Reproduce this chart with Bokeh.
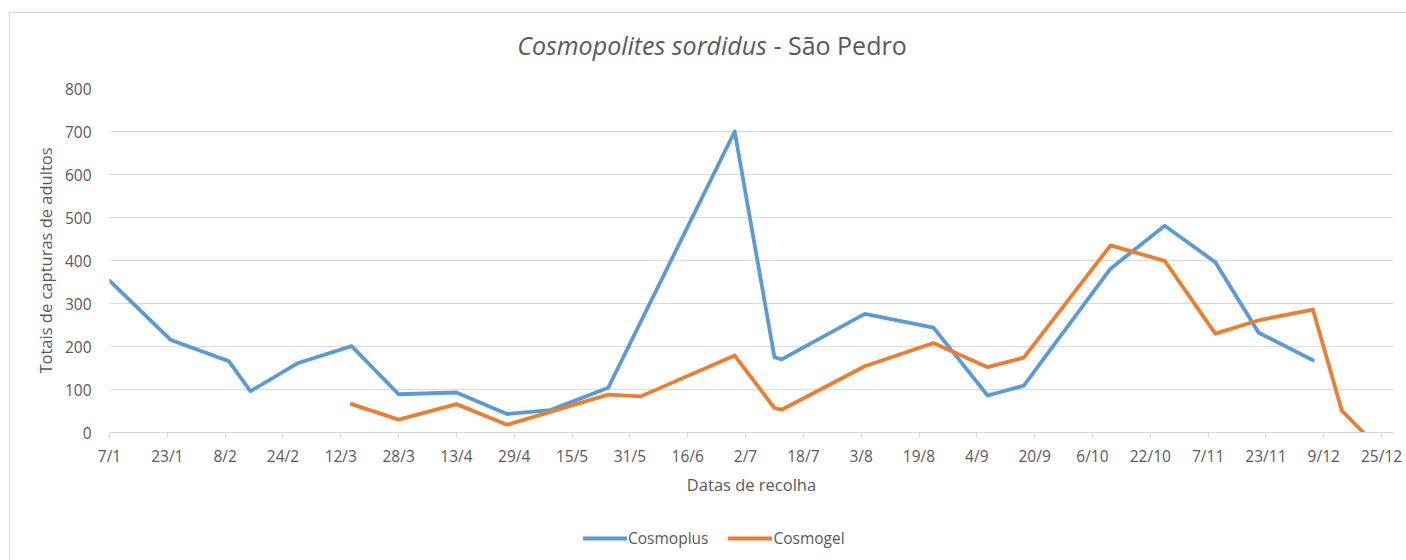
import pandas as pd
from bokeh.plotting import figure
from bokeh.layouts import column
from bokeh.models import (FixedTicker, Legend, LegendItem, Range1d,
                          ColumnDataSource, Div)
from bokeh.embed import file_html
from bokeh.resources import INLINE

# ---------------- data ----------------
YEAR = 2015
tick_labels = ["7/1", "23/1", "8/2", "24/2", "12/3", "28/3", "13/4", "29/4",
               "15/5", "31/5", "16/6", "2/7", "18/7", "3/8", "19/8", "4/9",
               "20/9", "6/10", "22/10", "7/11", "23/11", "9/12", "25/12"]
y_ticks = [0, 100, 200, 300, 400, 500, 600, 700, 800]

cosmoplus_dates = ["2015-01-07", "2015-01-24", "2015-02-09", "2015-02-15",
                   "2015-02-28", "2015-03-15", "2015-03-28", "2015-04-13",
                   "2015-04-27", "2015-05-09", "2015-05-25", "2015-06-29",
                   "2015-07-10", "2015-07-12", "2015-08-04", "2015-08-23",
                   "2015-09-07", "2015-09-17", "2015-10-11", "2015-10-26",
                   "2015-11-09", "2015-11-21", "2015-12-06"]
cosmoplus_values = [353, 215, 166, 96, 161, 201, 89, 93, 43, 52, 104, 700,
                    175, 170, 276, 244, 86, 109, 381, 481, 396, 232, 168]

cosmogel_dates = ["2015-03-15", "2015-03-28", "2015-04-13", "2015-04-27",
                  "2015-05-25", "2015-06-03", "2015-06-29", "2015-07-10",
                  "2015-07-12", "2015-08-04", "2015-08-23", "2015-09-07",
                  "2015-09-17", "2015-10-11", "2015-10-26", "2015-11-09",
                  "2015-11-21", "2015-12-06", "2015-12-14", "2015-12-20"]
cosmogel_values = [66, 30, 66, 18, 88, 84, 179, 57, 53, 154, 208, 152, 174,
                   435, 399, 230, 261, 286, 51, 0]

series_names = ["Cosmoplus", "Cosmogel"]
title_species = "Cosmopolites sordidus"
title_site = "São Pedro"

# ---------------- helpers ----------------
EPOCH = pd.Timestamp("1970-01-01")


def to_ms(ts):
    return (pd.Timestamp(ts) - EPOCH) / pd.Timedelta(milliseconds=1)


tick_ms = []
for lab in tick_labels:
    d, m = lab.split("/")
    tick_ms.append(to_ms(pd.Timestamp(year=YEAR, month=int(m), day=int(d))))

src_plus = ColumnDataSource(dict(x=pd.to_datetime(cosmoplus_dates), y=cosmoplus_values))
src_gel = ColumnDataSource(dict(x=pd.to_datetime(cosmogel_dates), y=cosmogel_values))

TEXT = "#595959"
GRID = "#D9D9D9"
BLUE = "#5B9BD5"
ORANGE = "#ED7D31"
FONT = "Open Sans"
LW = 3.8

x_start = tick_ms[0]
day_ms = 86400000.0
x_end = x_start + 355.3 * day_ms

W = 1396
H_TITLE = 50
H_MAIN = 455
H_LEG = 42
FRAME_H = 344

# ---------------- title (mixed italic / normal) ----------------
title_div = Div(
    text=(f'<div style="width:{W}px;height:{H_TITLE}px;box-sizing:border-box;'
          f'padding-top:15px;padding-left:8px;text-align:center;'
          f"font-family:'Open Sans';font-size:25px;line-height:34px;"
          f'color:{TEXT};white-space:nowrap;">'
          f'<i>{title_species}</i> - {title_site}</div>'),
    width=W, height=H_TITLE, margin=(0, 0, 0, 0))

# ---------------- main chart ----------------
p = figure(width=W, height=H_MAIN, x_axis_type="datetime",
           x_range=Range1d(x_start, x_end), y_range=Range1d(0, 800),
           output_backend="svg", toolbar_location=None,
           min_border_left=99, min_border_right=13,
           min_border_top=25, min_border_bottom=H_MAIN - 25 - FRAME_H)
p.outline_line_color = None
p.background_fill_color = "white"
p.border_fill_color = "white"

r_plus = p.line("x", "y", source=src_plus, line_color=BLUE, line_width=LW,
                line_join="round", line_cap="round")
r_gel = p.line("x", "y", source=src_gel, line_color=ORANGE, line_width=LW,
               line_join="round", line_cap="round")

# x axis
xa = p.xaxis[0]
xa.ticker = FixedTicker(ticks=tick_ms)
xa.major_label_overrides = {t: lab for t, lab in zip(tick_ms, tick_labels)}
xa.axis_line_color = GRID
xa.axis_line_width = 1.2
xa.major_tick_line_color = GRID
xa.major_tick_out = 5
xa.major_tick_in = 0
xa.minor_tick_line_color = None
xa.major_label_standoff = 7
xa.major_label_text_font = FONT
xa.major_label_text_font_size = "15.5px"
xa.major_label_text_color = TEXT
xa.axis_label = "Datas de recolha"
xa.axis_label_text_font = FONT
xa.axis_label_text_font_size = "16.5px"
xa.axis_label_text_font_style = "normal"
xa.axis_label_text_color = TEXT
xa.axis_label_standoff = 3

# y axis
ya = p.yaxis[0]
ya.ticker = FixedTicker(ticks=y_ticks)
ya.axis_line_color = None
ya.major_tick_line_color = None
ya.minor_tick_line_color = None
ya.major_tick_out = 0
ya.major_tick_in = 0
ya.major_label_standoff = 18
ya.major_label_text_font = FONT
ya.major_label_text_font_size = "15.5px"
ya.major_label_text_color = TEXT
ya.axis_label = "Totais de capturas de adultos"
ya.axis_label_text_font = FONT
ya.axis_label_text_font_size = "16.5px"
ya.axis_label_text_font_style = "normal"
ya.axis_label_text_color = TEXT
ya.axis_label_standoff = 5

p.xgrid.grid_line_color = None
p.ygrid.ticker = FixedTicker(ticks=y_ticks)
p.ygrid.grid_line_color = GRID
p.ygrid.grid_line_width = 1.2

# ---------------- legend strip below the chart ----------------
pl = figure(width=W, height=H_LEG, output_backend="svg", toolbar_location=None,
            x_axis_location=None, y_axis_location=None,
            x_range=Range1d(0, 1), y_range=Range1d(0, 1),
            min_border=0, min_border_left=0, min_border_right=0,
            min_border_top=0, min_border_bottom=0)
pl.outline_line_color = None
pl.xgrid.visible = False
pl.ygrid.visible = False
pl.border_fill_color = "white"
# same series, drawn outside this strip's visible range: only their legend shows
lg_plus = pl.line("x", "y", source=src_plus, line_color=BLUE, line_width=LW,
                  line_cap="round")
lg_gel = pl.line("x", "y", source=src_gel, line_color=ORANGE, line_width=LW,
                 line_cap="round")

legend = Legend(items=[LegendItem(label=series_names[0], renderers=[lg_plus]),
                       LegendItem(label=series_names[1], renderers=[lg_gel])],
                location=(474, 11), orientation="horizontal",
                padding=0, margin=0, spacing=20, glyph_width=44,
                glyph_height=20, label_height=20, label_standoff=1,
                label_text_font=FONT, label_text_font_size="15.5px",
                label_text_color=TEXT, border_line_color=None,
                background_fill_alpha=0)
pl.add_layout(legend)

layout = column(title_div, p, pl, spacing=0)
layout.styles = {"border-left": "1px solid #D9D9D9", "border-top": "1px solid #D9D9D9",
                 "margin-left": "9px", "margin-top": "12px"}

open("out.html", "w").write(file_html(layout, INLINE))
